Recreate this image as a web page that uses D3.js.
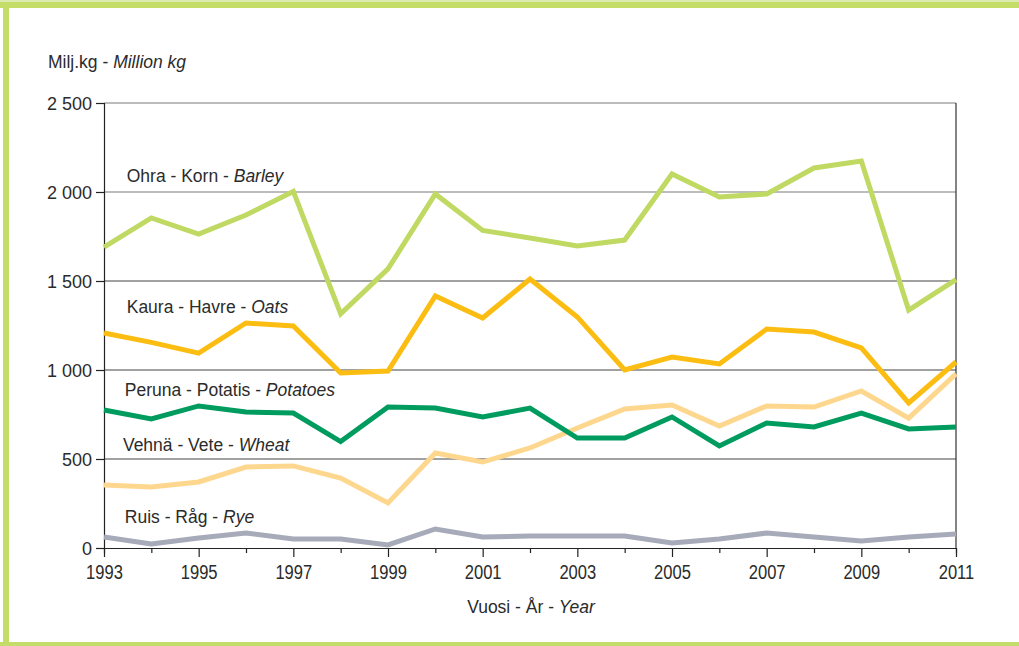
<!DOCTYPE html>
<html>
<head>
<meta charset="utf-8">
<script src="https://cdn.jsdelivr.net/npm/d3@7"></script>
<style>
  body { margin: 0; background: #fff; }
  text { font-family: "Liberation Sans", Arial, sans-serif; fill: #2b2b2b; }
</style>
</head>
<body>
<div id="chart"></div>
<script>
// data (million kg)
const years = d3.range(1993, 2012)
const barley   = [1690, 1854, 1764, 1871, 2003, 1315, 1568, 1989, 1784, 1742, 1697, 1730, 2101, 1972, 1989, 2135, 2174, 1337, 1508]
const oats     = [1208, 1155, 1095, 1264, 1247, 983, 994, 1416, 1292, 1511, 1298, 1000, 1073, 1034, 1230, 1213, 1124, 815, 1045]
const potatoes = [775, 725, 798, 764, 758, 598, 792, 786, 736, 786, 618, 618, 736, 573, 702, 680, 758, 669, 680]
const wheat    = [354, 343, 371, 455, 461, 393, 253, 534, 483, 562, 674, 781, 803, 685, 798, 792, 882, 730, 978]
const rye      = [62, 22, 56, 84, 51, 51, 17, 107, 62, 67, 67, 67, 28, 51, 84, 62, 39, 62, 79]

const seriesNames = ["Ohra - Korn - ", "Kaura - Havre - ", "Peruna - Potatis - ", "Vehnä - Vete - ", "Ruis - Råg - "]
const seriesItalic = ["Barley", "Oats", "Potatoes", "Wheat", "Rye"]
const yTicks = [0, 500, 1000, 1500, 2000, 2500]
const yTickLabels = ["0", "500", "1 000", "1 500", "2 000", "2 500"]

const W = 1019, H = 646
const MARGIN = {TOP: 103, LEFT: 104, RIGHT: 63, BOTTOM: 98}
const WIDTH = W - MARGIN.LEFT - MARGIN.RIGHT
const HEIGHT = H - MARGIN.TOP - MARGIN.BOTTOM

const colors = ["#bfd962", "#fcbd12", "#009b5f", "#fed78f", "#a7aab9"]
// where each series name sits (year, value)
const labelAt = [[1993.48, 2056], [1993.48, 1320], [1993.44, 854], [1993.4, 545], [1993.44, 140]]

const svg = d3.select("#chart").append("svg")
  .attr("width", W)
  .attr("height", H)

// green frame
const frame = svg.append("g").attr("fill", "#c3dd68")
frame.append("rect").attr("x", 0).attr("y", 2).attr("width", W).attr("height", 6)
frame.append("rect").attr("x", 0).attr("y", 0).attr("width", W).attr("height", 2).attr("fill", "#dcebb0")
frame.append("rect").attr("x", 3).attr("y", 2).attr("width", 6).attr("height", H)
frame.append("rect").attr("x", 0).attr("y", 642).attr("width", W).attr("height", 4)

const g = svg.append("g")
  .attr("transform", `translate(${MARGIN.LEFT}, ${MARGIN.TOP})`)

const x = d3.scaleLinear().domain([1993, 2011]).range([0, WIDTH])
const y = d3.scaleLinear().domain([0, 2500]).range([HEIGHT, 0])

// horizontal grid
g.append("g")
  .selectAll("line")
  .data(yTicks.filter(d => d > 0))
  .join("line")
  .attr("x1", 0).attr("x2", WIDTH)
  .attr("y1", d => y(d)).attr("y2", d => y(d))
  .attr("stroke", d => d >= 2000 ? "#7a7a7a" : "#444")
  .attr("stroke-width", 1.2)

// right border
g.append("line")
  .attr("x1", WIDTH).attr("x2", WIDTH)
  .attr("y1", 0).attr("y2", HEIGHT)
  .attr("stroke", "#333").attr("stroke-width", 1.2)

// y axis
const yAxis = g.append("g")
  .call(d3.axisLeft(y).tickValues(yTicks).tickSize(8).tickPadding(4)
    .tickFormat((d, i) => yTickLabels[i]))
yAxis.select(".domain").attr("stroke", "#222").attr("stroke-width", 1.2)
yAxis.selectAll(".tick line").attr("stroke", "#222").attr("stroke-width", 1.2)
yAxis.selectAll("text").attr("font-size", 18).attr("dy", "0.36em")
  .attr("font-family", "Liberation Sans, Arial, sans-serif").attr("fill", "#2b2b2b")

// x axis: long ticks at labelled years, short between
const xAxis = g.append("g")
  .attr("transform", `translate(0, ${HEIGHT})`)
  .call(d3.axisBottom(x).tickValues(years).tickSize(5).tickPadding(10)
    .tickFormat(d => (d % 2 === 1) ? d : ""))
xAxis.select(".domain").attr("stroke", "#222").attr("stroke-width", 1.2)
xAxis.selectAll(".tick line")
  .attr("stroke", "#222").attr("stroke-width", 1.2)
  .attr("y2", d => (d % 2 === 1) ? 9 : 5)
xAxis.selectAll("text").attr("font-size", 18).attr("dy", "0.72em")
  .attr("font-family", "Liberation Sans, Arial, sans-serif").attr("fill", "#2b2b2b")
  .attr("transform", "scale(0.92, 1.12)")
  .attr("x", function (d) { return 0 })

// lines
const allSeries = [barley, oats, potatoes, wheat, rye]
const line = d3.line()
  .x((d, i) => x(years[i]))
  .y(d => y(d))

g.append("g")
  .selectAll("path")
  .data(allSeries.slice().reverse())
  .join("path")
  .attr("d", line)
  .attr("fill", "none")
  .attr("stroke", (d, i) => colors[colors.length - 1 - i])
  .attr("stroke-width", 5)
  .attr("stroke-linejoin", "miter")

// series labels
const labels = g.append("g")
  .selectAll("text")
  .data(seriesNames)
  .join("text")
  .attr("x", (d, i) => x(labelAt[i][0]))
  .attr("y", (d, i) => y(labelAt[i][1]))
  .attr("font-size", 17.5)
labels.append("tspan").text(d => d)
labels.append("tspan").attr("font-style", "italic").text((d, i) => seriesItalic[i])

// axis titles
const yTitle = svg.append("text")
  .attr("x", 48).attr("y", 68)
  .attr("font-size", 17.5)
yTitle.append("tspan").text("Milj.kg - ")
yTitle.append("tspan").attr("font-style", "italic").text("Million kg")

const xTitle = svg.append("text")
  .attr("x", MARGIN.LEFT + WIDTH / 2 + 1).attr("y", 613)
  .attr("text-anchor", "middle")
  .attr("font-size", 17.5)
xTitle.append("tspan").text("Vuosi - År - ")
xTitle.append("tspan").attr("font-style", "italic").text("Year")
</script>
</body>
</html>
